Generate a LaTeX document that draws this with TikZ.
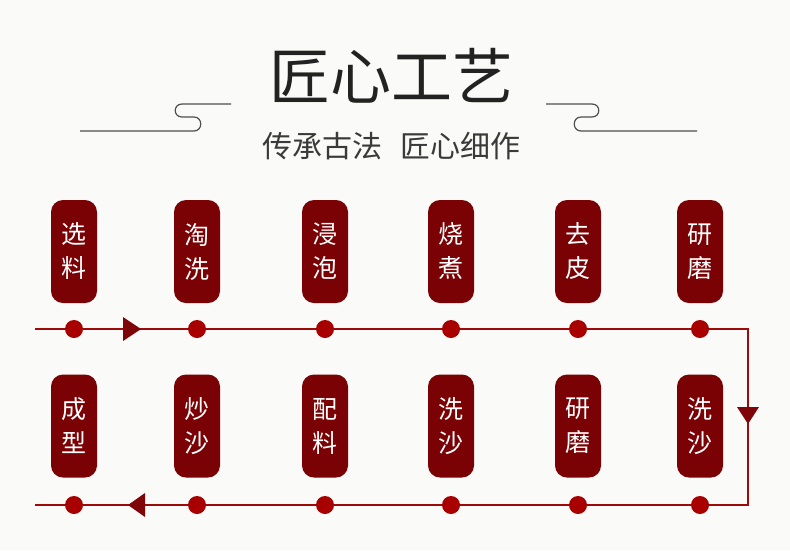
\documentclass[tikz,border=0pt]{standalone}
\usepackage{fontspec}
\newfontfamily\cjk{Noto Sans CJK SC}
\definecolor{bgc}{HTML}{FAFAF8}
\definecolor{boxc}{HTML}{7A0204}
\definecolor{linec}{HTML}{9E0A0A}
\definecolor{dotc}{HTML}{A80000}
\definecolor{tric}{HTML}{7E0608}
\definecolor{titc}{HTML}{222222}
\definecolor{subc}{HTML}{3A3A3A}
\begin{document}
\begin{tikzpicture}[x=1pt,y=-1pt,
  stepbox/.style={fill=boxc,rounded corners=12pt,minimum width=46pt,minimum height=103pt,inner sep=0pt,text=white,font=\cjk\fontsize{25}{34}\selectfont,align=center},
  dotn/.style={circle,fill=dotc,minimum size=18pt,inner sep=0pt},
  flow/.style={draw=linec,line width=2pt},
  orn/.style={draw=titc!80,line width=1.2pt}]
\fill[bgc] (0,0) rectangle (790,550);
\useasboundingbox (0,0) rectangle (790,550);
% title
\node[font=\cjk\fontsize{61}{61}\selectfont,text=titc,inner sep=0pt] (title) at (391,76) {匠心工艺};
\node[font=\cjk\fontsize{30}{30}\selectfont,text=subc,inner sep=0pt] (sub) at (391,146) {传承古法\hspace{0.6em}匠心细作};
% ornaments
\draw[orn] (231,104) -- (182,104) .. controls (173,104) and (173,117) .. (182,117) -- (194,117) .. controls (203,117) and (203,131) .. (194,131) -- (80,131);
\draw[orn] (546,104) -- (592,104) .. controls (601,104) and (601,117) .. (592,117) -- (581,117) .. controls (572,117) and (572,131) .. (581,131) -- (697,131);
% flow line
\coordinate (s1) at (35,329);
\coordinate (c1) at (748,329);
\coordinate (c2) at (748,505);
\coordinate (e1) at (35,505);
\draw[flow] (s1) -- (c1) -- (c2) -- (e1);
% top row
\foreach \x/\t/\n in {74/选\\料/a1,197/淘\\洗/a2,325/浸\\泡/a3,451/烧\\煮/a4,578/去\\皮/a5,700/研\\磨/a6}{
  \node[stepbox] (box\n) at (\x,251.5) {\t};
  \node[dotn] (dot\n) at (\x,329) {};
}
\foreach \x/\t/\n in {74/成\\型/b1,197/炒\\沙/b2,325/配\\料/b3,451/洗\\沙/b4,578/研\\磨/b5,700/洗\\沙/b6}{
  \node[stepbox] (box\n) at (\x,426) {\t};
  \node[dotn] (dot\n) at (\x,505) {};
}
% arrow triangles
\fill[tric] (123,317) -- (141,329) -- (123,341) -- cycle;
\fill[tric] (737,407) -- (759,407) -- (748,424) -- cycle;
\fill[tric] (145,493) -- (128,505) -- (145,517) -- cycle;
\end{tikzpicture}
\end{document}
